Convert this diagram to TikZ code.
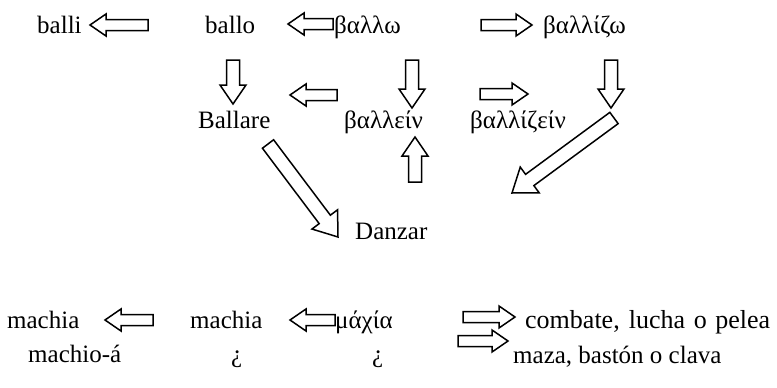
\documentclass[tikz,border=0pt]{standalone}
\usepackage{fontspec}
\setmainfont{Liberation Serif}
\usetikzlibrary{calc}
\tikzset{
  hollow/.style n args={3}{line width=1.5pt, line join=miter,
    to path={let \p1=($(\tikztotarget)!#1pt!(\tikztostart)$) in
      ($(\tikztostart)!#3pt!-90:(\tikztotarget)$) --
      ($(\p1)!#3pt!-90:(\tikztotarget)$) --
      ($(\p1)!#2pt!-90:(\tikztotarget)$) --
      (\tikztotarget) --
      ($(\p1)!#2pt!90:(\tikztotarget)$) --
      ($(\p1)!#3pt!90:(\tikztotarget)$) --
      ($(\tikztostart)!#3pt!90:(\tikztotarget)$) -- cycle}},
  harr/.style={hollow={16}{11}{5.5}},
  varr/.style={hollow={19}{13}{6.5}},
  darr/.style={hollow={22}{16}{7}},
  word/.style={anchor=base west, inner sep=0pt, font=\fontsize{25}{30}\selectfont}
}
\begin{document}
\begin{tikzpicture}[x=1pt,y=-1pt]
\useasboundingbox (0,0) rectangle (777,388);
% words
\node[word] (balli) at (37,33) {balli};
\node[word] (ballo) at (205,33) {ballo};
\node[word] (ballw) at (334,33) {βαλλω};
\node[word] (ballizw) at (543,33) {βαλλίζω};
\node[word] (ballare) at (198,128) {Ballare};
\node[word] (ballein) at (344,128) {βαλλείν};
\node[word] (ballizein) at (470,128) {βαλλίζείν};
\node[word] (danzar) at (355,239) {Danzar};
\node[word] (machia1) at (7,328) {machia};
\node[word] (machia2) at (190,328) {machia};
\node[word] (maxia) at (335,328) {μάχία};
\node[word, font=\fontsize{26}{30}\selectfont] (combate) at (525,328) {\makebox[245pt][s]{combate, lucha o pelea}};
\node[word] (machioa) at (28,362) {machio-á};
\node[word] (q1) at (231,362) {¿};
\node[word] (q2) at (372,362) {¿};
\node[word] (maza) at (513,363) {maza, bastón o clava};
% arrow end points
\coordinate (r1a) at (148,25); \coordinate (r1b) at (90,25);
\coordinate (r2a) at (333,24); \coordinate (r2b) at (288,24);
\coordinate (r3a) at (481,25); \coordinate (r3b) at (532,25);
\coordinate (v1a) at (233,60); \coordinate (v1b) at (233,104);
\coordinate (m1a) at (337,95); \coordinate (m1b) at (290,95);
\coordinate (v2a) at (412,60); \coordinate (v2b) at (412,108);
\coordinate (m2a) at (480,94); \coordinate (m2b) at (528,94);
\coordinate (v3a) at (611,60); \coordinate (v3b) at (611,108);
\coordinate (upa) at (415,182); \coordinate (upb) at (415,137);
\coordinate (d1a) at (268,144); \coordinate (d1b) at (338,237);
\coordinate (d2a) at (614,118); \coordinate (d2b) at (512,193);
\coordinate (b1a) at (153,320); \coordinate (b1b) at (105,320);
\coordinate (b2a) at (335,320); \coordinate (b2b) at (290,320);
\coordinate (b3a) at (463,317); \coordinate (b3b) at (515,317);
\coordinate (b4a) at (458,341); \coordinate (b4b) at (508,341);
% arrows
\draw[harr] (r1a) to (r1b);
\draw[harr] (r2a) to (r2b);
\draw[harr] (r3a) to (r3b);
\draw[varr] (v1a) to (v1b);
\draw[harr] (m1a) to (m1b);
\draw[varr] (v2a) to (v2b);
\draw[harr] (m2a) to (m2b);
\draw[varr] (v3a) to (v3b);
\draw[varr] (upa) to (upb);
\draw[darr] (d1a) to (d1b);
\draw[darr] (d2a) to (d2b);
\draw[harr] (b1a) to (b1b);
\draw[harr] (b2a) to (b2b);
\draw[harr] (b3a) to (b3b);
\draw[harr] (b4a) to (b4b);
\end{tikzpicture}
\end{document}
